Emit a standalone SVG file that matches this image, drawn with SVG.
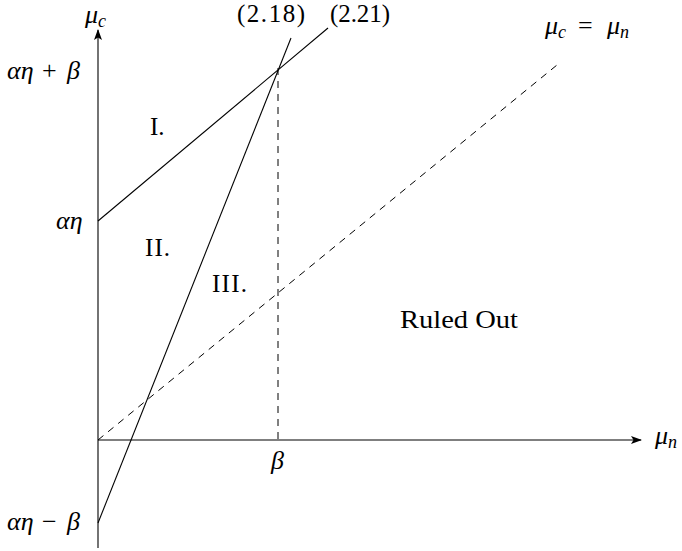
<svg xmlns="http://www.w3.org/2000/svg" width="682" height="551" viewBox="0 0 682 551">
<style>
text{font-family:"Liberation Serif","Times New Roman",serif;fill:#000;font-size:25px}
.m{font-style:italic;font-size:26px}
.s{font-size:18px;font-style:italic}
.n{font-style:normal}
.ln{stroke:#000;stroke-width:1.1;fill:none}
.ax{stroke:#000;stroke-width:1.1;fill:none}
.d{stroke:#000;stroke-width:1;fill:none;stroke-dasharray:7,6}
</style>
<defs>
<marker id="ah" markerWidth="12" markerHeight="10" refX="10" refY="4" orient="auto" markerUnits="userSpaceOnUse">
<path d="M0,0 L11,4 L0,8 L2.5,4 Z" fill="#000"/>
</marker>
</defs>
<rect width="682" height="551" fill="#fff"/>
<g id="connectors">
<line id="y-axis" class="ax" x1="98" y1="548" x2="98" y2="30" marker-end="url(#ah)"/>
<line id="x-axis" class="ax" x1="98" y1="440" x2="641" y2="440" marker-end="url(#ah)"/>
<line id="l221" class="ln" x1="98" y1="221" x2="328" y2="28"/>
<line id="l218" class="ln" x1="98" y1="523" x2="291" y2="38"/>
<line id="diag" class="d" x1="98" y1="440" x2="557" y2="65"/>
<line id="vbeta" class="d" x1="278" y1="68" x2="278" y2="440"/>
</g>
<g id="label-muc"><text class="m" x="85" y="23">μ<tspan class="s" dy="4">c</tspan></text></g>
<g id="label-218"><text x="237" y="22" textLength="68" lengthAdjust="spacing">(2.18)</text></g>
<g id="label-221"><text x="330" y="22" textLength="60" lengthAdjust="spacing">(2.21)</text></g>
<g id="label-eq"><text class="m" y="34"><tspan x="545">μ</tspan><tspan class="s" dy="4">c</tspan><tspan class="n" x="578" dy="-4">=</tspan><tspan x="607">μ</tspan><tspan class="s" dy="4">n</tspan></text></g>
<g id="label-aeb"><text class="m" y="79"><tspan x="7">αη</tspan><tspan class="n" x="42">+</tspan><tspan x="67">β</tspan></text></g>
<g id="label-ae"><text class="m" x="56" y="229">αη</text></g>
<g id="label-aemb"><text class="m" y="530"><tspan x="7">αη</tspan><tspan class="n" x="42">−</tspan><tspan x="67">β</tspan></text></g>
<g id="label-beta"><text class="m" x="271" y="469">β</text></g>
<g id="label-mun"><text class="m" x="655" y="444">μ<tspan class="s" dy="4">n</tspan></text></g>
<g id="region-I"><text x="150" y="135">I.</text></g>
<g id="region-II"><text x="145" y="256" textLength="25" lengthAdjust="spacing">II.</text></g>
<g id="region-III"><text x="212" y="292" textLength="35" lengthAdjust="spacing">III.</text></g>
<g id="region-ruled"><text x="400" y="328" textLength="118" lengthAdjust="spacingAndGlyphs">Ruled Out</text></g>
</svg>
